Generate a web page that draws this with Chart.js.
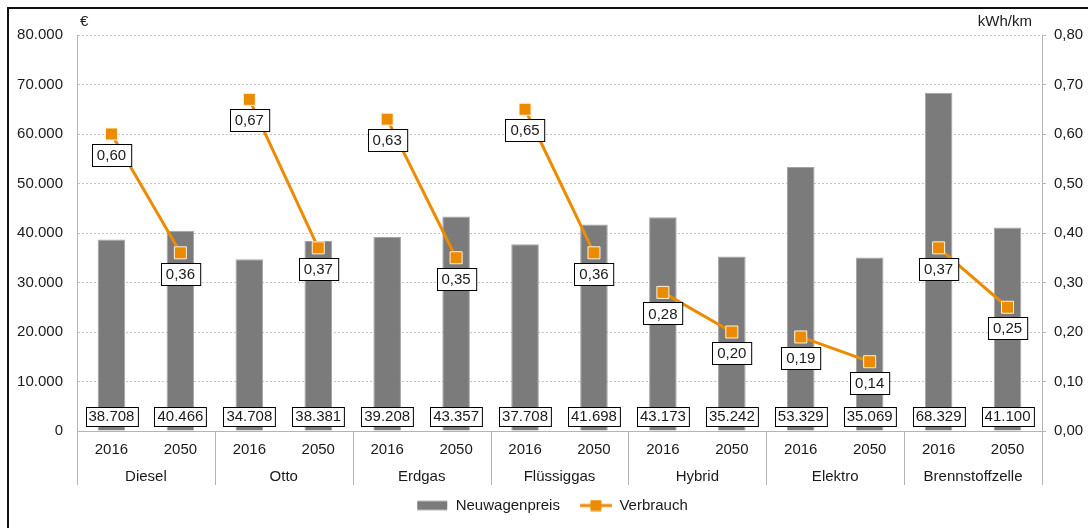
<!DOCTYPE html>
<html>
<head>
<meta charset="utf-8">
<script src="https://cdn.jsdelivr.net/npm/chart.js@4/dist/chart.umd.min.js"></script>
<style>
    html, body { margin: 0; padding: 0; background: #ffffff; overflow: hidden; }
    #frame {
        position: absolute; left: 7px; top: 7px; width: 1200px; height: 600px;
        border-left: 2px solid #111111; border-top: 2px solid #111111;
    }
    #chartCanvas { position: absolute; left: 0; top: 0; }
</style>
</head>
<body>
<div id="frame"></div>
<canvas id="chartCanvas" width="1088" height="528"></canvas>
<script>
    const groups = ['Diesel', 'Otto', 'Erdgas', 'Flüssiggas', 'Hybrid', 'Elektro', 'Brennstoffzelle'];
    const years = ['2016', '2050'];
    const neuwagenpreis = [38708, 40466, 34708, 38381, 39208, 43357, 37708, 41698, 43173, 35242, 53329, 35069, 68329, 41100];
    const verbrauch = [0.60, 0.36, 0.67, 0.37, 0.63, 0.35, 0.65, 0.36, 0.28, 0.20, 0.19, 0.14, 0.37, 0.25];
    const preisAxis = { min: 0, max: 80000, step: 10000, unit: '€' };
    const verbrauchAxis = { min: 0, max: 0.8, step: 0.1, unit: 'kWh/km' };

    const labels = groups.flatMap(() => years);
    const orange = '#ED8B00';
    const barGrey = '#7b7b7b';
    const axisGrey = '#b4b4b4';
    const textColor = '#1a1a1a';
    const fontFamily = '"Liberation Sans", Arial, sans-serif';

    Chart.defaults.font.family = fontFamily;
    Chart.defaults.font.size = 15;
    Chart.defaults.color = textColor;

    function fmtPreis(v) {
        return String(Math.round(v)).replace(/\B(?=(\d{3})+(?!\d))/g, '.');
    }
    function fmtVerbrauch(v) {
        return Number(v).toFixed(2).replace('.', ',');
    }

    // small canvases used as legend symbols
    function legendSymbol(kind) {
        const c = document.createElement('canvas');
        c.width = 32; c.height = 12;
        const g = c.getContext('2d');
        if (kind === 'bar') {
            g.fillStyle = barGrey;
            g.fillRect(1, 1.5, 30, 9);
        } else {
            g.strokeStyle = orange;
            g.lineWidth = 3;
            g.beginPath(); g.moveTo(0, 6); g.lineTo(32, 6); g.stroke();
            g.fillStyle = orange;
            g.fillRect(10.5, 0.5, 11, 11);
        }
        return c;
    }
    const legendSymbols = [legendSymbol('bar'), legendSymbol('line')];

    function drawBox(ctx, text, cx, cy, padX, h) {
        const w = ctx.measureText(text).width + padX * 2;
        const x = Math.round(cx - w / 2) + 0.5;
        const y = Math.round(cy - h / 2) + 0.5;
        ctx.fillStyle = '#ffffff';
        ctx.fillRect(x, y, w, h);
        ctx.strokeStyle = '#000000';
        ctx.lineWidth = 1;
        ctx.strokeRect(x, y, w, h);
        ctx.fillStyle = textColor;
        ctx.fillText(text, cx, cy + 1);
    }

    // boxed value labels for bars and line points
    const valueLabels = {
        id: 'valueLabels',
        afterDatasetsDraw(chart) {
            const ctx = chart.ctx;
            ctx.save();
            ctx.font = '15px ' + fontFamily;
            ctx.textAlign = 'center';
            ctx.textBaseline = 'middle';
            chart.data.datasets.forEach((ds, i) => {
                const meta = chart.getDatasetMeta(i);
                meta.data.forEach((el, j) => {
                    if (ds.type === 'bar') {
                        drawBox(ctx, fmtPreis(ds.data[j]), el.x, el.base - 14.5, 3, 19);
                    } else {
                        drawBox(ctx, fmtVerbrauch(ds.data[j]), el.x, el.y + 21, 5, 22);
                    }
                });
            });
            ctx.restore();
        }
    };

    // second row of the category axis: group names with separators, plus axis units
    const groupAxis = {
        id: 'groupAxis',
        afterDraw(chart) {
            const ctx = chart.ctx;
            const x = chart.scales.x;
            const area = chart.chartArea;
            const step = x.getPixelForValue(1) - x.getPixelForValue(0);
            ctx.save();
            ctx.strokeStyle = axisGrey;
            ctx.lineWidth = 1;
            for (let k = 0; k <= groups.length; k++) {
                const px = Math.round(x.getPixelForValue(k * years.length) - step / 2) + 0.5;
                ctx.beginPath();
                ctx.moveTo(px, area.bottom);
                ctx.lineTo(px, area.bottom + 54);
                ctx.stroke();
            }
            ctx.font = '15px ' + fontFamily;
            ctx.fillStyle = textColor;
            ctx.textAlign = 'center';
            ctx.textBaseline = 'middle';
            groups.forEach((g, k) => {
                const a = x.getPixelForValue(k * years.length);
                const b = x.getPixelForValue(k * years.length + years.length - 1);
                ctx.fillText(g, (a + b) / 2, area.bottom + 46);
            });
            ctx.textAlign = 'left';
            ctx.fillText(preisAxis.unit, area.left + 3, 22);
            ctx.textAlign = 'right';
            ctx.fillText(verbrauchAxis.unit, area.right - 10, 22);
            ctx.restore();
        }
    };

    const ctx = document.getElementById('chartCanvas').getContext('2d');
    new Chart(ctx, {
        data: {
            labels: labels,
            datasets: [{
                type: 'bar',
                label: 'Neuwagenpreis',
                data: neuwagenpreis,
                yAxisID: 'y',
                backgroundColor: barGrey,
                borderColor: '#a3a3a3',
                borderWidth: 1,
                barPercentage: 0.4,
                categoryPercentage: 1.0,
                order: 1
            }, {
                type: 'line',
                label: 'Verbrauch',
                data: verbrauch,
                yAxisID: 'y1',
                borderColor: orange,
                borderWidth: 3,
                tension: 0,
                pointStyle: 'rect',
                pointRadius: 8.5,
                pointBackgroundColor: orange,
                pointBorderColor: '#fff3e0',
                pointBorderWidth: 1,
                segment: {
                    // only connect the two years inside one group
                    borderColor: c => (c.p0DataIndex % 2 === 1 ? 'rgba(0,0,0,0)' : orange)
                },
                order: 0
            }]
        },
        options: {
            responsive: false,
            animation: false,
            layout: { padding: { left: 16, top: 35, right: 0, bottom: 5 } },
            plugins: {
                tooltip: { enabled: false },
                legend: {
                    position: 'bottom',
                    labels: {
                        usePointStyle: true,
                        pointStyleWidth: 32,
                        padding: 20,
                        color: textColor,
                        font: { size: 15 },
                        sort: (a, b) => a.datasetIndex - b.datasetIndex,
                        generateLabels(chart) {
                            const items = Chart.defaults.plugins.legend.labels.generateLabels(chart);
                            items.forEach(it => { it.pointStyle = legendSymbols[it.datasetIndex]; });
                            return items;
                        }
                    }
                }
            },
            scales: {
                x: {
                    type: 'category',
                    offset: true,
                    grid: { display: false, drawTicks: false },
                    border: { display: true, color: axisGrey, width: 1 },
                    ticks: { padding: 10, color: textColor, maxRotation: 0, autoSkip: false },
                    afterFit(scale) {
                        const legendH = scale.chart.legend ? scale.chart.legend.height : 45;
                        scale.height = 528 - 5 - legendH - 431;
                    }
                },
                y: {
                    position: 'left',
                    min: preisAxis.min,
                    max: preisAxis.max,
                    ticks: {
                        stepSize: preisAxis.step,
                        padding: 14,
                        color: textColor,
                        callback: v => fmtPreis(v)
                    },
                    grid: {
                        drawTicks: false,
                        color: c => (c.tick && c.tick.value === 0 ? 'rgba(0,0,0,0)' : '#c4c4c4')
                    },
                    border: { display: true, color: axisGrey, width: 1, dash: [2, 2] },
                    afterFit(scale) { scale.width = 77 - 16; }
                },
                y1: {
                    position: 'right',
                    min: verbrauchAxis.min,
                    max: verbrauchAxis.max,
                    ticks: {
                        stepSize: verbrauchAxis.step,
                        padding: 8,
                        color: textColor,
                        callback: v => fmtVerbrauch(v)
                    },
                    grid: { drawOnChartArea: false, drawTicks: true, tickLength: 4, color: axisGrey },
                    border: { display: true, color: axisGrey, width: 1 },
                    afterFit(scale) { scale.width = 1088 - 1042; }
                }
            }
        },
        plugins: [valueLabels, groupAxis]
    });
</script>
</body>
</html>
